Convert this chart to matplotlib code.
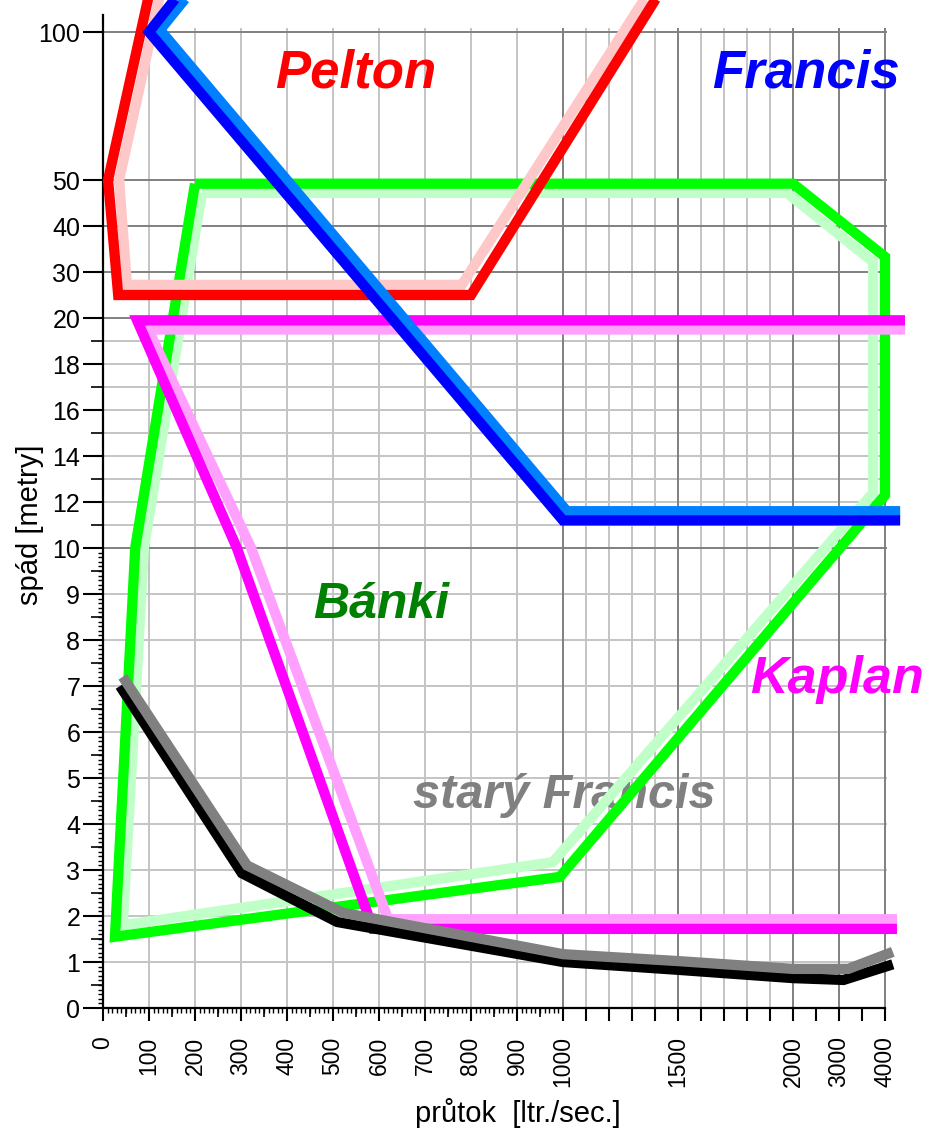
import numpy as np
import matplotlib
matplotlib.use("Agg")
import matplotlib.pyplot as plt

# ---------------- data (flow in l/s, head in m) ----------------
pelton_x = [102, 11, 33, 800, 1426]
pelton_y = [114, 50, 25, 25, 114]
pelton_in_x = [126, 35, 52, 780, 1378]
pelton_in_y = [114, 50, 27.2, 27.2, 114]

francis_x = [171, 100, 1000, 4330]
francis_y = [114, 100, 11.2, 11.2]
francis_in_x = [193, 124, 1017, 4330]
francis_in_y = [114, 100.7, 11.6, 11.6]

banki_x = [200, 70, 26, 993, 4000, 4000, 2000, 200]
banki_y = [49.2, 10, 1.55, 2.85, 12.3, 33.3, 49.2, 49.2]
banki_in_x = [215, 89, 43, 978, 3740, 3740, 1974, 215]
banki_in_y = [47.2, 10, 1.8, 3.17, 12.4, 32.2, 47.2, 47.2]

kaplan_x = [4435, 74, 291, 587, 4260]
kaplan_y = [19.9, 19.9, 10, 1.72, 1.72]
kaplan_in_x = [4435, 98, 322, 620, 4260]
kaplan_in_y = [19.5, 19.5, 10, 1.93, 1.93]

stary_x = [37, 302, 509, 1000, 1500, 2000, 3100, 4170]
stary_y = [7.0, 2.93, 1.87, 1.0, 0.83, 0.65, 0.61, 0.95]
stary_in_x = [43, 313, 522, 1000, 1500, 2000, 3200, 4170]
stary_in_y = [7.2, 3.1, 2.07, 1.17, 1.02, 0.85, 0.85, 1.22]

x_tick_values = [0, 100, 200, 300, 400, 500, 600, 700, 800, 900, 1000,
                 1100, 1200, 1300, 1400, 1500, 1600, 1700, 1800, 1900, 2000,
                 2500, 3000, 3500, 4000]
x_tick_labels = ["0", "100", "200", "300", "400", "500", "600", "700", "800", "900", "1000",
                 "", "", "", "", "1500", "", "", "", "", "2000",
                 "", "3000", "", "4000"]
y_tick_values = [0, 1, 2, 3, 4, 5, 6, 7, 8, 9, 10, 12, 14, 16, 18, 20, 30, 40, 50, 100]
y_tick_labels = ["0", "1", "2", "3", "4", "5", "6", "7", "8", "9", "10", "12", "14",
                 "16", "18", "20", "30", "40", "50", "100"]

grid_x_light = [100, 200, 300, 400, 500, 600, 700, 800, 900,
                1100, 1200, 1300, 1400, 1600, 1700, 1800, 1900]
grid_x_dark = [1000, 1500, 2000, 3000, 4000]
grid_y_light = [1, 2, 3, 4, 5, 6, 7, 8, 9, 11, 12, 13, 14, 15, 16, 17, 18, 19]
grid_y_dark = [10, 20, 30, 40, 50, 100]

# ---------------- piecewise axis scales ----------------
X_BREAKS = [0, 1000, 2000, 4000, 8000]
X_UNITS = [0, 460, 690, 782, 966]
Y_BREAKS = [0, 10, 20, 50, 100, 150]
Y_UNITS = [0, 460, 690, 828, 976, 1124]


def fx(v):
    return np.interp(v, X_BREAKS, X_UNITS)


def fx_inv(u):
    return np.interp(u, X_UNITS, X_BREAKS)


def fy(v):
    return np.interp(v, Y_BREAKS, Y_UNITS)


def fy_inv(u):
    return np.interp(u, Y_UNITS, Y_BREAKS)


W, H = 936, 1136
fig = plt.figure(figsize=(W / 100, H / 100), dpi=100)
rect = [103 / W, 128 / H, 833 / W, 1008 / H]
ax = fig.add_axes(rect)
XMAX = float(fx_inv(833))
YMAX = float(fy_inv(1008))


def setup_scales(a):
    a.set_xscale("function", functions=(fx, fx_inv))
    a.set_yscale("function", functions=(fy, fy_inv))
    a.set_xlim(0, XMAX)
    a.set_ylim(0, YMAX)


setup_scales(ax)

# grid
ax.hlines(grid_y_light, 0, 4050, colors="#c4c4c4", lw=1.4, zorder=0.5)
ax.vlines(grid_x_light, 0, 101.4, colors="#c4c4c4", lw=1.4, zorder=0.5)
ax.hlines(grid_y_dark, 0, 4050, colors="#808080", lw=1.4, zorder=0.6)
ax.vlines(grid_x_dark, 0, 101.4, colors="#808080", lw=1.4, zorder=0.6)

LW = 7.4
common = dict(solid_joinstyle="miter", solid_capstyle="butt", clip_on=False)
series = [
    (banki_in_x, banki_in_y, "#c0ffc8", 2.0),
    (banki_x, banki_y, "#00ff00", 2.1),
    (pelton_in_x, pelton_in_y, "#ffc8c8", 3.0),
    (pelton_x, pelton_y, "#ff0000", 3.1),
    (kaplan_in_x, kaplan_in_y, "#ffa0ff", 4.0),
    (kaplan_x, kaplan_y, "#ff00ff", 4.1),
    (stary_in_x, stary_in_y, "#808080", 5.0),
    (stary_x, stary_y, "#000000", 4.9),
    (francis_in_x, francis_in_y, "#0080ff", 6.0),
    (francis_x, francis_y, "#0000ff", 6.1),
]
for xs, ys, c, z in series:
    ax.plot(xs, ys, color=c, lw=LW, zorder=z, **common)

# labels of turbine types (under the lines)
tf = dict(family=["Liberation Sans", "DejaVu Sans"], weight="bold", style="italic",
          transform=fig.transFigure, zorder=1.5, va="baseline", ha="left")
ax.text(275 / W, 1 - 88 / H, "Pelton", color="#ff0000", fontsize=38, **tf)
ax.text(712 / W, 1 - 88 / H, "Francis", color="#0000ff", fontsize=38, **tf)
ax.text(313 / W, 1 - 618 / H, "Bánki", color="#008000", fontsize=36, **tf)
ax.text(750 / W, 1 - 693 / H, "Kaplan", color="#ff00ff", fontsize=37.5, **tf)
ax.text(413 / W, 1 - 808 / H, "starý Francis", color="#808080", fontsize=35, **tf)

# spines
for s in ("top", "right"):
    ax.spines[s].set_visible(False)
ax.spines["left"].set_bounds(0, 105.7)
ax.spines["bottom"].set_bounds(0, 4000)
ax.spines["left"].set_linewidth(1.6)
ax.spines["bottom"].set_linewidth(1.6)
ax.patch.set_visible(False)

# ticks
xtick_font = dict(family=["Liberation Sans", "DejaVu Sans"], size=16.5)
ytick_font = dict(family=["Liberation Sans", "DejaVu Sans"], size=18)
ax.set_xticks(x_tick_values)
ax.set_xticklabels(x_tick_labels, rotation=90, va="top", ha="center", **xtick_font)
ax.set_yticks(y_tick_values)
ax.set_yticklabels(y_tick_labels, **ytick_font)
ax.set_xticks(np.arange(10, 1000, 10), minor=True)
ax.set_yticks(np.arange(0.1, 10, 0.1), minor=True)
ax.tick_params(axis="x", which="major", length=9.5, width=1.5, pad=11)
ax.tick_params(axis="y", which="major", length=14.4, width=1.5, pad=2)
ax.tick_params(axis="both", which="minor", length=3.6, width=1.0)

# medium ticks on an overlay axes
ax2 = fig.add_axes(rect, frameon=False)
setup_scales(ax2)
ax2.patch.set_visible(False)
ax2.set_xticks(np.arange(50, 1000, 100))
ax2.set_yticks(list(np.arange(0.5, 10, 1.0)) + [11, 13, 15, 17, 19])
ax2.tick_params(axis="x", length=6.5, width=1.2, labelbottom=False)
ax2.tick_params(axis="y", length=8.6, width=1.2, labelleft=False)
ax2.set_zorder(ax.get_zorder() - 1)

# axis titles
lab_font = dict(family=["Liberation Sans", "DejaVu Sans"], size=21)
ax.set_xlabel("průtok  [ltr./sec.]", **lab_font)
ax.set_ylabel("spád [metry]", **lab_font)
ax.xaxis.set_label_coords((518 - 103) / 833, (1008 - 1113) / 1008)
ax.xaxis.label.set_va("center")
ax.yaxis.set_label_coords((30 - 103) / 833, (1008 - 525) / 1008)
ax.yaxis.label.set_va("center")

fig.savefig("out.png", dpi=100, facecolor="white")
